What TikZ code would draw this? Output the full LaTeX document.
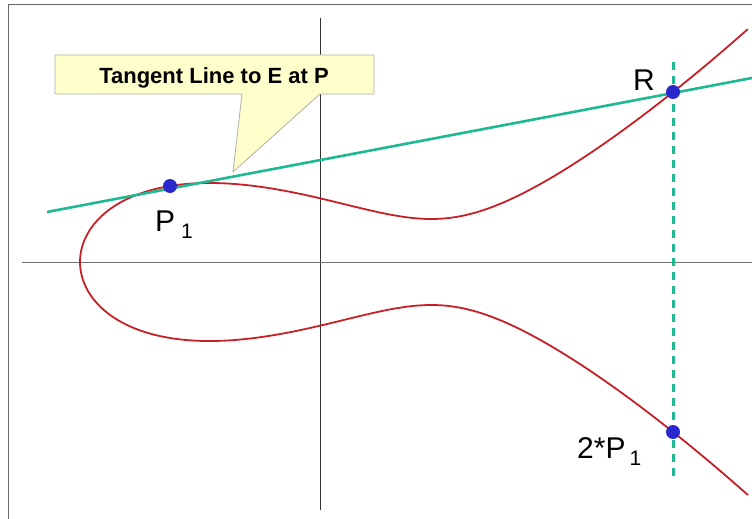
\documentclass[tikz,border=0pt]{standalone}
\usepackage{fontspec}
\setmainfont{Liberation Sans}
\usepackage{tikz}
\usetikzlibrary{calc}
\definecolor{curvecol}{RGB}{200,32,40}
\definecolor{tancol}{RGB}{30,185,145}
\definecolor{ptcol}{RGB}{40,40,205}
\definecolor{notecol}{RGB}{255,255,204}
\definecolor{notedraw}{RGB}{175,175,165}
\tikzset{
  frameline/.style={draw=black!60,line width=1pt},
  axisline/.style={draw=black!80,line width=0.9pt},
  ecurve/.style={draw=curvecol,line width=1.8pt},
  tanline/.style={draw=tancol,line width=2.6pt},
  vdash/.style={draw=tancol,line width=3pt,dash pattern=on 8pt off 6pt},
  ptdot/.style={circle,fill=ptcol,inner sep=0pt,minimum size=14pt},
  ptlbl/.style={inner sep=0pt,anchor=base west,font=\fontsize{30}{36}\selectfont},
  notebox/.style={fill=notecol,draw=notedraw,line width=0.8pt},
  notetxt/.style={inner sep=0pt,anchor=base,font=\bfseries\fontsize{22}{26}\selectfont},
}
\newcommand{\subone}{\raisebox{-7pt}{\fontsize{21}{24}\selectfont 1}}

\begin{document}
\begin{tikzpicture}[x=1pt,y=-1pt]
  \useasboundingbox (0,0) rectangle (752,519);
  % ---------------- frame and axes ----------------
  \draw[frameline] (8,519) -- (8,5) -- (752,5);
  \draw[axisline] (320,18) -- (320,510);
  \draw[axisline,draw=black!55] (22,262) -- (752,262);
  % ---------------- curve E ----------------
  \draw[ecurve] plot[domain=-2.5846:2.5846,samples=140,smooth,variable=\s]
    ({80+100*\s*\s},{262-28.38*\s*sqrt((\s*\s-3.606)^2+0.6445)});
  % ---------------- points ----------------
  \coordinate (P1) at (170,186);
  \coordinate (R)  at (673,92);
  \coordinate (P2) at (673,432);
  \coordinate (tanA) at (47,212);
  \coordinate (tanB) at (752,78);
  \coordinate (vtop) at (673,62);
  \coordinate (vbot) at (673,477);
  % ---------------- lines ----------------
  \draw[tanline] (tanA) -- (tanB);
  \draw[vdash] (vtop) -- (vbot);
  \node[ptdot] (dotP1) at (P1) {};
  \node[ptdot] (dotR)  at (R)  {};
  \node[ptdot] (dotP2) at (P2) {};
  % ---------------- labels ----------------
  \node[ptlbl] (lblP1) at (155,231) {P\hspace{6pt}\subone};
  \node[ptlbl,anchor=base] (lblR) at (644,90) {R};
  \node[ptlbl] (lblP2) at (577,458) {2*P\hspace{4pt}\subone};
  % ---------------- callout ----------------
  \draw[notebox] (55,55) -- (374,55) -- (374,94) -- (320,94) -- (233,172)
    -- (242,94) -- (55,94) -- cycle;
  \node[notetxt] (note) at (214,83) {Tangent Line to E at P};
\end{tikzpicture}
\end{document}
